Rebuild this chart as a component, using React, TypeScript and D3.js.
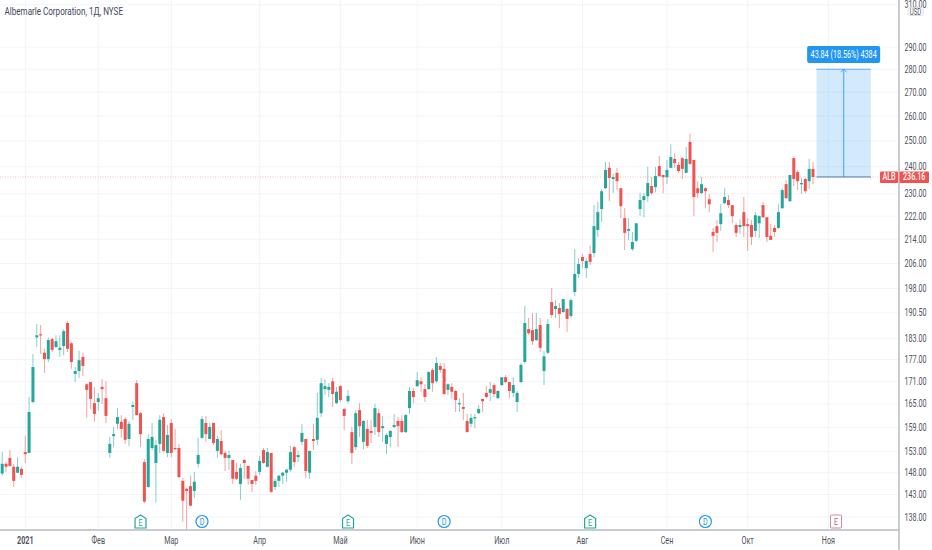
import * as d3 from 'd3'

const opens = [
  147.8,150.1,151.5,149.4,148.0,148.9,152.9,152.7,165.5,183.3,
  184.2,178.9,177.1,182.8,180.5,179.7,180.8,187.5,181.6,173.0,
  173.8,177.7,170.2,170.8,165.2,165.5,169.5,166.5,152.7,156.8,
  159.9,160.4,161.1,156.1,164.2,170.5,162.6,150.5,144.7,153.9,
  150.3,154.9,161.6,152.7,160.1,153.9,153.9,146.1,144.3,144.9,
  143.8,150.1,156.4,160.1,156.1,160.1,153.2,155.6,152.7,151.5,
  151.0,148.2,145.4,151.0,149.6,146.3,147.3,148.2,153.4,149.4,
  152.7,144.7,146.1,147.3,148.0,148.7,154.1,151.7,155.4,156.1,
  148.0,156.1,155.9,162.6,168.9,168.7,171.0,165.2,169.7,163.7,
  165.7,157.8,154.1,163.4,155.4,158.6,158.1,159.1,162.6,158.8,
  154.9,156.6,159.1,160.6,160.6,157.8,163.9,168.4,169.7,171.0,
  168.9,168.9,174.1,171.0,175.2,174.4,168.7,169.5,168.4,165.0,
  164.2,160.6,159.9,161.4,162.6,166.3,167.9,167.9,170.0,166.5,
  170.0,172.1,170.8,167.9,165.5,170.8,176.3,185.7,185.4,182.5,
  186.9,173.8,178.9,193.8,191.7,192.0,190.8,191.7,189.6,196.9,
  202.6,208.1,204.5,209.1,209.4,217.2,224.5,232.0,239.6,235.4,
  237.7,232.0,221.3,216.9,210.7,213.5,224.5,227.7,229.1,232.8,
  232.4,240.3,236.9,236.1,239.6,243.0,240.7,243.3,237.7,249.6,
  242.6,232.0,230.2,232.0,228.0,216.5,218.5,219.2,226.6,227.7,
  225.9,218.9,218.2,223.4,219.2,218.9,216.9,219.5,225.9,221.6,
  215.2,217.9,217.9,224.8,233.5,227.3,243.3,238.0,233.5,235.4,234.6,239.2,
]
const closes = [
  150.1,149.4,149.6,146.1,149.4,147.5,152.4,162.9,174.9,183.9,
  183.9,177.1,182.5,179.7,182.2,180.3,185.1,180.0,176.3,173.8,
  176.8,175.2,168.7,166.3,162.4,166.5,168.9,161.9,154.9,157.3,
  161.6,158.6,155.9,159.9,164.7,162.1,157.3,141.4,156.1,156.6,
  154.6,160.9,153.2,157.1,152.7,153.6,147.0,141.6,143.8,140.5,
  145.9,152.2,161.1,157.3,159.1,155.1,156.1,152.4,151.5,152.2,
  146.6,146.6,149.1,150.3,146.6,145.4,146.1,150.8,150.3,152.9,
  143.6,146.1,147.3,148.0,148.7,152.9,150.5,152.2,157.6,148.4,
  153.2,155.6,161.4,170.5,169.7,169.5,167.6,168.2,166.0,161.9,
  167.1,152.7,162.6,159.3,160.6,154.4,157.6,163.9,157.8,159.3,
  157.1,158.1,159.6,159.3,157.8,162.1,168.4,166.8,171.3,170.2,
  166.8,173.5,170.5,176.0,174.1,167.6,170.2,168.2,166.0,165.2,
  163.7,157.8,161.4,161.6,163.7,165.7,166.8,168.9,167.6,168.4,
  172.1,170.8,168.4,170.0,167.9,175.5,187.5,184.5,182.2,185.7,
  180.3,177.9,187.2,189.9,192.6,190.2,194.7,188.7,194.4,202.6,
  205.8,206.8,206.8,206.5,218.5,223.4,230.9,238.8,235.8,236.1,
  234.6,225.5,216.2,217.5,213.1,219.5,227.7,229.1,233.9,230.2,
  236.5,236.5,236.1,238.8,243.7,241.4,238.4,239.2,243.0,241.1,
  228.8,230.2,233.5,230.9,226.2,215.2,216.2,223.0,228.8,225.9,
  222.0,216.2,218.9,218.5,218.5,214.8,222.3,222.0,221.6,214.8,
  213.8,216.5,223.4,231.3,228.4,236.9,235.4,234.6,233.9,230.9,239.2,236.16,
]
const highs = [
  152.9,150.5,153.4,150.1,151.7,149.4,156.9,166.8,178.5,187.2,
  186.9,180.0,183.3,183.3,183.9,183.9,185.7,188.1,181.9,174.9,
  179.4,178.9,170.5,170.8,169.5,167.9,171.6,171.0,156.6,159.1,
  163.9,162.1,161.6,160.6,165.7,171.3,162.9,151.2,157.3,160.1,
  155.9,162.1,162.6,159.6,161.1,158.6,154.9,146.8,144.5,147.3,
  148.2,156.4,161.9,161.9,160.1,160.1,156.9,158.3,153.2,153.2,
  151.0,150.3,150.1,151.2,149.6,146.3,148.4,152.0,153.9,153.9,
  152.7,146.6,147.5,148.2,148.9,154.4,154.4,153.2,159.9,156.1,
  153.2,159.9,167.9,171.9,171.6,170.5,171.9,169.5,170.0,163.9,
  168.7,159.1,163.4,165.2,160.9,160.9,160.9,165.0,163.7,161.9,
  157.6,158.3,162.4,161.6,162.1,162.4,169.5,169.2,173.5,172.1,
  170.2,173.8,174.6,177.7,176.0,176.0,170.5,170.5,168.7,166.5,
  167.9,162.4,162.4,162.4,164.7,166.3,169.7,170.8,170.5,168.7,
  172.1,172.7,170.8,172.1,168.4,176.0,192.6,189.0,190.5,190.5,
  189.0,179.4,188.7,198.1,194.4,193.5,194.7,192.0,195.0,210.7,
  207.8,209.1,207.8,211.8,225.9,227.0,231.7,241.8,241.8,237.3,
  239.6,232.0,224.8,221.3,216.5,219.5,230.2,230.2,240.0,236.1,
  240.0,244.1,236.9,242.6,248.7,245.2,241.8,243.7,247.6,252.8,
  242.6,234.6,236.1,232.4,229.9,217.9,220.6,226.2,232.0,229.5,
  225.9,219.5,220.9,228.8,221.3,220.6,223.4,222.3,227.0,221.6,
  219.2,218.9,226.2,232.0,235.0,236.9,244.1,238.8,235.8,235.8,243.0,241.8,
]
const lows = [
  147.3,148.2,149.4,144.7,148.0,146.8,150.3,152.7,165.2,180.5,
  178.5,173.3,176.3,179.1,180.3,177.7,178.2,179.1,174.4,170.8,
  171.9,172.4,161.4,163.7,160.4,163.2,165.0,160.1,151.5,154.1,
  158.6,156.4,154.9,154.4,160.9,162.1,154.1,141.0,144.5,153.4,
  141.2,152.7,152.9,151.7,151.7,153.4,146.8,137.0,134.8,140.3,
  142.2,149.2,156.1,155.4,156.1,154.6,151.5,152.2,148.4,148.7,
  145.4,146.3,141.8,146.6,145.2,143.6,145.2,147.5,150.1,149.2,
  143.3,144.0,144.7,145.4,145.9,148.2,149.4,150.5,154.6,146.8,
  146.6,153.4,154.6,161.6,167.4,166.8,164.2,165.0,165.5,158.3,
  165.2,150.1,153.4,156.6,153.6,153.9,155.1,157.1,156.6,155.4,
  152.4,154.1,158.8,154.1,157.6,157.6,162.4,165.2,169.5,168.2,
  165.5,168.7,168.2,170.5,173.3,167.4,167.4,166.3,162.9,162.9,
  160.9,157.8,159.1,158.8,162.4,162.9,166.5,165.7,166.8,166.3,
  169.7,170.5,166.5,166.8,162.9,170.5,176.0,183.9,181.1,182.2,
  179.1,170.0,178.5,189.0,189.0,186.0,190.5,184.8,189.0,195.6,
  201.3,204.5,201.3,205.5,208.1,214.8,219.9,231.7,227.3,230.2,
  231.3,221.3,210.4,213.8,210.1,213.1,222.0,221.6,227.0,229.5,
  230.5,236.1,230.2,233.5,239.6,239.6,237.7,235.4,237.7,240.7,
  222.0,228.4,229.9,224.8,223.4,209.7,213.1,216.9,226.2,224.8,
  219.5,214.8,215.9,214.8,210.1,212.1,214.8,214.5,221.3,213.1,
  213.8,214.8,217.5,224.5,228.0,227.0,232.8,231.3,229.9,230.2,231.7,233.5,
]

const priceTicks = [310, 290, 280, 270, 260, 250, 240, 230, 222, 214, 206, 198, 190.5, 183, 177, 171, 165, 159, 153, 148, 143, 138]
const monthLabels = ['2021', 'Фев', 'Мар', 'Апр', 'Май', 'Июн', 'Июл', 'Авг', 'Сен', 'Окт', 'Ноя']
const monthIndex = [6, 25, 44, 67, 88, 108, 130, 151, 173, 194, 215]

// earnings / dividend flags, by bar index
const eventKinds = ['E', 'D', 'E', 'D', 'E', 'D', 'N']
const eventIndex = [36, 52, 90, 115, 153, 183, 217]

const lastPrice = 236.16
const targetPrice = 280
const measureText = '43.84 (18.56%) 4384'
const measureBars = [211, 225]

const UP = '#26a69a'
const DOWN = '#ef5350'
const TEXT = '#50535e'
const GRID = '#f2f4fa'
const AXIS = '#b8bac2'
const BLUE = '#2196f3'
const FONT = 'Roboto, sans-serif'

const W = 932
const H = 550
const plotRight = 899
const plotBottom = 530

const x = d3.scaleLinear().domain([0, 211]).range([2.2, 813])
const y = d3.scaleLog().domain([290, 138]).range([47, 517])

const fmt = d3.format('.2f')

// the screenshot was squeezed sideways, so its text is narrower than any installed face
const Label = ({ px, py, children, anchor = 'start', fill = TEXT, size = 10, sx = 0.72, weight = 400 }: any) => (
  <text
    transform={`translate(${px},${py}) scale(${sx},1)`}
    textAnchor={anchor}
    fontSize={size}
    fontFamily={FONT}
    fontWeight={weight}
    fill={fill}
  >
    {children}
  </text>
)

const EventFlag = ({ kind, cx }: { kind: string; cx: number }) => {
  const cy = 521.5
  if (kind === 'D') {
    return (
      <g>
        <circle cx={cx} cy={cy} r={6} fill="#fff" stroke={BLUE} strokeWidth={1.2} />
        <Label px={cx} py={cy + 3} anchor="middle" size={8.5} fill={BLUE} sx={0.85}>D</Label>
      </g>
    )
  }
  if (kind === 'E') {
    const path = d3.path()
    path.moveTo(cx, cy - 6.5)
    path.lineTo(cx + 5.5, cy - 3)
    path.lineTo(cx + 5.5, cy + 6.5)
    path.lineTo(cx - 5.5, cy + 6.5)
    path.lineTo(cx - 5.5, cy - 3)
    path.closePath()
    return (
      <g>
        <path d={path.toString()} fill="#fff" stroke={UP} strokeWidth={1.2} />
        <Label px={cx} py={cy + 4} anchor="middle" size={8.5} fill={UP} sx={0.85}>E</Label>
      </g>
    )
  }
  return (
    <g>
      <rect x={cx - 5.5} y={cy - 6.5} width={11} height={13} rx={1} fill="#fff" stroke="#c98a9c" strokeWidth={1} />
      <Label px={cx} py={cy + 3.5} anchor="middle" size={8.5} fill="#c0647c" sx={0.85}>E</Label>
    </g>
  )
}

export default function App() {
  const lastY = y(lastPrice)
  const targetY = y(targetPrice)
  const mLeft = x(measureBars[0]) + 3.5
  const mRight = x(measureBars[1]) + 4
  const mMid = (mLeft + mRight) / 2

  return (
    <svg width={W} height={H} style={{ position: 'absolute', left: 0, top: 0, background: '#fff' }}>
      <defs>
        <clipPath id="plot">
          <rect x={0} y={0} width={plotRight} height={plotBottom} />
        </clipPath>
      </defs>

      {/* grid */}
      <g stroke={GRID} strokeWidth={1}>
        {priceTicks.map(p => (
          <line key={p} x1={0} x2={plotRight} y1={y(p)} y2={y(p)} />
        ))}
        {monthIndex.map(i => (
          <line key={i} x1={x(i)} x2={x(i)} y1={0} y2={plotBottom} />
        ))}
      </g>

      {/* measure tool */}
      <rect x={mLeft} y={targetY} width={mRight - mLeft} height={lastY - targetY} fill={BLUE} fillOpacity={0.2} />
      <line x1={mLeft} x2={mRight} y1={targetY} y2={targetY} stroke={BLUE} strokeWidth={1} strokeOpacity={0.7} />
      <line x1={mMid} x2={mMid} y1={targetY} y2={lastY} stroke={BLUE} strokeWidth={1.5} strokeOpacity={0.6} />
      <path d={`M${mMid - 3},${targetY + 3}L${mMid},${targetY}L${mMid + 3},${targetY + 3}`} fill="none" stroke={BLUE} strokeWidth={0.8} />

      {/* last price line */}
      <line x1={0} x2={880} y1={lastY} y2={lastY} stroke={DOWN} strokeOpacity={0.4} strokeWidth={1} strokeDasharray="1 1.5" />
      <line x1={mLeft} x2={mRight} y1={lastY} y2={lastY} stroke="#4a7fb5" strokeWidth={1} />

      {/* candles */}
      <g clipPath="url(#plot)">
        {opens.map((o, i) => {
          const c = closes[i]
          const col = c >= o ? UP : DOWN
          const top = y(Math.max(o, c))
          const bot = y(Math.min(o, c))
          return (
            <g key={i}>
              <line x1={x(i)} x2={x(i)} y1={y(highs[i])} y2={y(lows[i])} stroke={col} strokeOpacity={0.55} strokeWidth={1} />
              <rect x={x(i) - 1.5} y={top} width={3} height={Math.max(bot - top, 1.2)} fill={col} />
            </g>
          )
        })}
      </g>

      {/* events */}
      {eventKinds.map((k, i) => (
        <EventFlag key={i} kind={k} cx={x(eventIndex[i])} />
      ))}

      <rect x={mMid - 36.5} y={46} width={73} height={17} rx={2} fill={BLUE} />
      <Label px={mMid} py={57.5} anchor="middle" fill="#fff" sx={0.72}>{measureText}</Label>

      <Label px={4.5} py={14.5} size={10.5} sx={0.77} fill="#3f4560">Albemarle Corporation, 1Д, NYSE</Label>

      {/* axes */}
      <line x1={plotRight} x2={plotRight} y1={0} y2={H} stroke={AXIS} strokeWidth={1.5} />
      <line x1={0} x2={plotRight} y1={plotBottom} y2={plotBottom} stroke={AXIS} strokeWidth={1.5} />

      {priceTicks.map(p => (
        <Label key={p} px={904.5} py={y(p) + 3.5}>{fmt(p)}</Label>
      ))}
      {monthLabels.map((m, i) => (
        <Label key={m} px={x(monthIndex[i])} py={543.5} anchor="middle" weight={m === '2021' ? 700 : 400}>{m}</Label>
      ))}

      <rect x={908} y={7.5} width={15} height={8} rx={2} fill="#fff" stroke="#d6d8de" strokeWidth={0.8} />
      <Label px={915.5} py={14.5} anchor="middle" size={8.5}>USD</Label>

      {/* price labels */}
      <rect x={880} y={lastY - 5.5} width={18} height={11.5} rx={1} fill={DOWN} />
      <Label px={889} py={lastY + 3.5} anchor="middle" fill="#fff" weight={500}>ALB</Label>
      <rect x={899.5} y={lastY - 5.5} width={29.5} height={11.5} rx={1} fill={DOWN} />
      <Label px={914.2} py={lastY + 3.5} anchor="middle" fill="#fff" weight={500}>{fmt(lastPrice)}</Label>
    </svg>
  )
}
